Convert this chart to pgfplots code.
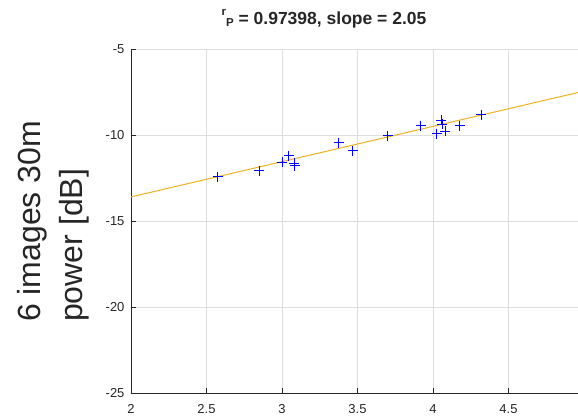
\documentclass[border=0pt]{standalone}
\usepackage{pgfplots}
\pgfplotsset{compat=1.18}
\usepackage{fontspec}
\setmainfont{Liberation Sans}
\definecolor{mlorange}{rgb}{0.929,0.694,0.125}
\definecolor{axgray}{rgb}{0.15,0.15,0.15}
\definecolor{gridgray}{rgb}{0.87,0.87,0.87}
\begin{document}
\begin{tikzpicture}[x=1pt,y=1pt]
  \begin{axis}[
    at={(131pt,24pt)}, anchor=south west,
    scale only axis, width=453pt, height=344pt,
    xmin=2, xmax=5, ymin=-25, ymax=-5,
    axis x line=bottom, axis y line=left,
    axis line style={draw=axgray, -},
    xtick={2,2.5,3,3.5,4,4.5},
    ytick={-25,-20,-15,-10,-5},
    tick align=inside, major tick length=5pt,
    tick style={draw=axgray},
    grid=major, major grid style={draw=gridgray, line width=0.6pt},
    /pgf/number format/assume math mode=true,
    ticklabel style={font=\fontsize{13}{15}\selectfont, text=axgray},
    xticklabel style={yshift=-8pt},
    yticklabel style={xshift=-3pt},
    clip=false
  ]
  % fitted line
  \addplot[mlorange, line width=1pt] coordinates {(2,-13.6) (4.96,-7.53)};
  % data points
  \addplot[only marks, color=blue, mark=+, mark size=5pt,
           mark options={draw=blue, line width=1pt}] coordinates {
    (2.576,-12.44) (2.85,-12.09) (3.00,-11.59) (3.044,-11.20) (3.08,-11.65)
    (3.086,-11.78) (3.375,-10.45) (3.468,-10.91) (3.70,-10.04) (3.92,-9.46)
    (4.026,-9.92) (4.053,-9.13) (4.06,-9.38) (4.08,-9.77) (4.177,-9.46)
    (4.32,-8.82)
  };
  \end{axis}
  \node[anchor=base, font=\bfseries\fontsize{17.5}{19}\selectfont, text=axgray] at (324,392)
    {{\fontsize{11.5}{12}\selectfont\raisebox{9pt}{r}\raisebox{-2pt}{P}} = 0.97398, slope = 2.05};
  \node[rotate=90, align=left, inner sep=0pt, anchor=north west,
        font=\fontsize{32}{42}\selectfont, text=axgray] at (17,95)
    {6 images 30m\\power [dB]};
  \pgfresetboundingbox
  \useasboundingbox (0,0) rectangle (578,417);
\end{tikzpicture}
\end{document}
